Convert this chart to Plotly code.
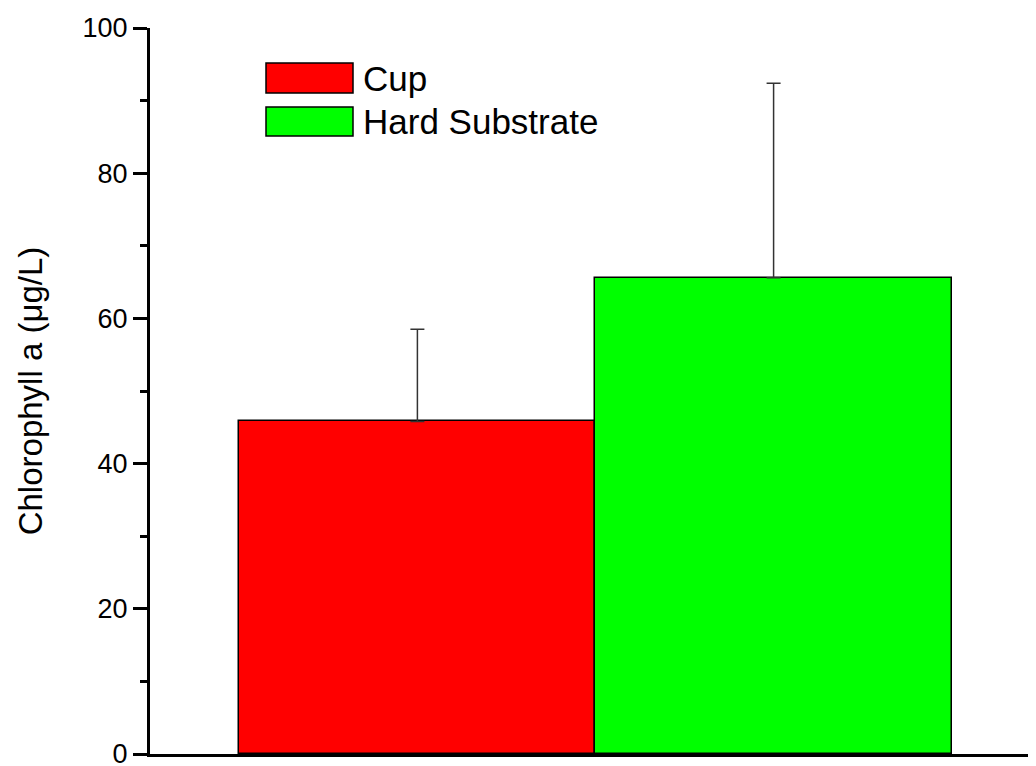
import plotly.graph_objects as go

# ---- data ----
categories = ["Cup", "Hard Substrate"]
means = [45.8, 65.6]
errors_plus = [12.7, 26.8]
colors = ["#FF0000", "#00FF00"]
positions = [1, 2]
y_ticks = [0, 20, 40, 60, 80, 100]

# page has an 8px body margin; compensate so the plot lands where the reference has it
OFF = 8
W, H = 1036, 766
ML, MR, MT, MB = 150 - OFF, OFF, 28 - OFF, 20
PW, PH = W - ML - MR, H - MT - MB

FONT = "Liberation Sans, Arial, sans-serif"

fig = go.Figure()
for cat, m, e, c, p in zip(categories, means, errors_plus, colors, positions):
    fig.add_trace(go.Bar(
        x=[p], y=[m], width=1, name=cat,
        marker=dict(color=c, line=dict(color="black", width=1.5)),
        error_y=dict(type="data", array=[e], arrayminus=[0], symmetric=False,
                     color="#333333", thickness=1.5, width=7),
        showlegend=False,
    ))

# convert screen pixel (reference image) to paper coords
def px2paper_x(px):
    return (px - OFF - ML) / PW

def px2paper_y(py):
    return (H - MB - (py - OFF)) / PH

# manual legend (large boxes like the original)
legend_rows = [(63, 93), (107, 136)]
for cat, c, (y0, y1) in zip(categories, colors, legend_rows):
    fig.add_shape(type="rect", xref="paper", yref="paper",
                  x0=px2paper_x(266), x1=px2paper_x(353),
                  y0=px2paper_y(y1), y1=px2paper_y(y0),
                  fillcolor=c, line=dict(color="black", width=1.5))
    fig.add_annotation(xref="paper", yref="paper",
                       x=px2paper_x(361), y=px2paper_y((y0 + y1) / 2),
                       text=cat, showarrow=False, xanchor="left", yanchor="middle",
                       font=dict(family=FONT, size=35, color="black"))

fig.update_layout(
    width=W, height=H,
    margin=dict(l=ML, r=MR, t=MT, b=MB, autoexpand=False),
    paper_bgcolor="white", plot_bgcolor="white",
    bargap=0,
    font=dict(family=FONT, color="black"),
    xaxis=dict(range=[0.2493, 2.7367], showline=True, linecolor="black", linewidth=3,
               showticklabels=False, ticks="", showgrid=False, zeroline=False,
               automargin=False),
    yaxis=dict(range=[0, 100], showline=True, linecolor="black", linewidth=3,
               tickvals=y_ticks, ticks="outside", ticklen=14, tickwidth=3, tickcolor="black",
               minor=dict(ticks="outside", ticklen=7, tickwidth=2.5, tickcolor="black", dtick=10),
               tickfont=dict(family=FONT, size=27, color="black"),
               showgrid=False, zeroline=False, automargin=False,
               title=dict(text="Chlorophyll a (μg/L)", standoff=30,
                          font=dict(family=FONT, size=33, color="black"))),
)

fig.write_html("out.html")
